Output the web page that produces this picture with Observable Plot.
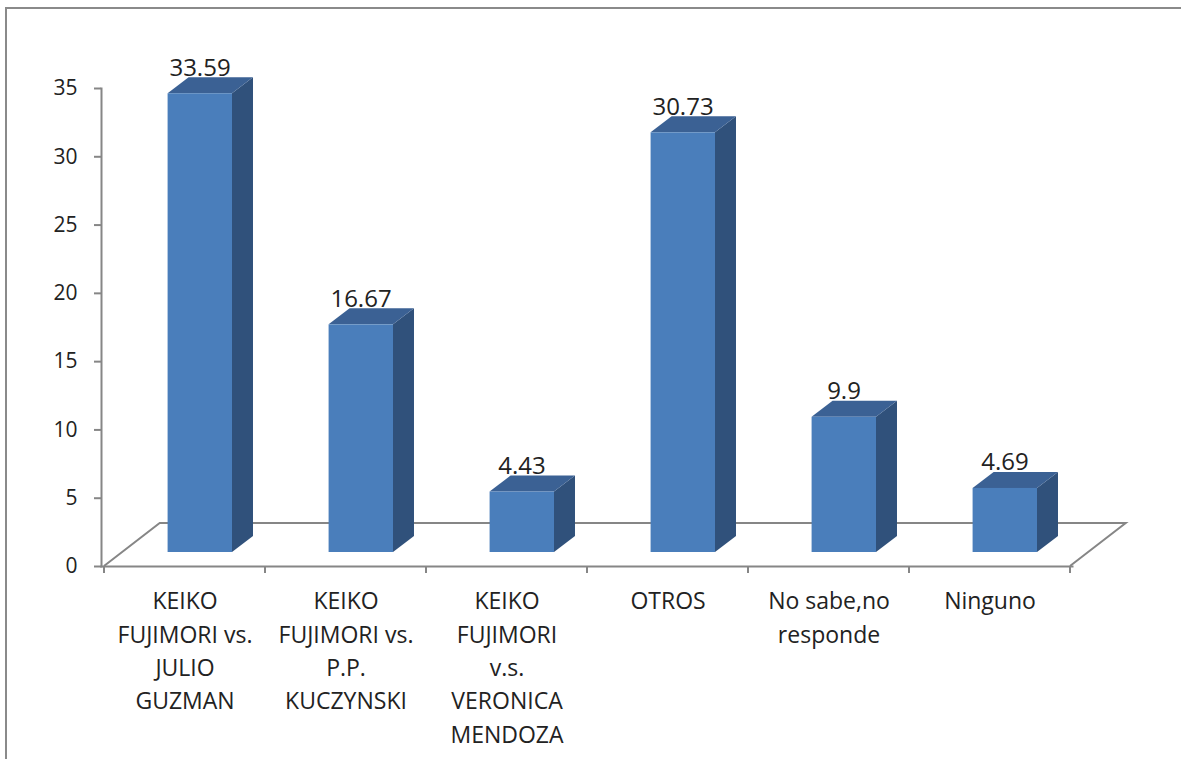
<!DOCTYPE html>
<html>
<head>
<meta charset="utf-8">
<script src="https://cdn.jsdelivr.net/npm/d3@7"></script>
<script src="https://cdn.jsdelivr.net/npm/@observablehq/plot@0.6"></script>
<style>
  html, body { margin: 0; padding: 0; background: #fff; overflow: hidden; }
  body { width: 1181px; height: 759px; position: relative; }
  #frame { position: absolute; left: 5px; top: 7px; width: 1300px; height: 900px;
           border-top: 2px solid #8a8a8a; border-left: 2px solid #8a8a8a; box-sizing: border-box; }
  #chart { position: absolute; left: 0; top: 0; }
</style>
</head>
<body>
<div id="frame"></div>
<div id="chart"></div>
<script>
// ---- data ----
const categories = [
  "KEIKO FUJIMORI vs. JULIO GUZMAN",
  "KEIKO FUJIMORI vs. P.P. KUCZYNSKI",
  "KEIKO FUJIMORI v.s. VERONICA MENDOZA",
  "OTROS",
  "No sabe,no responde",
  "Ninguno"
];
const categoryLabels = [
  "KEIKO\nFUJIMORI vs.\nJULIO\nGUZMAN",
  "KEIKO\nFUJIMORI vs.\nP.P.\nKUCZYNSKI",
  "KEIKO\nFUJIMORI\nv.s.\nVERONICA\nMENDOZA",
  "OTROS",
  "No sabe,no\nresponde",
  "Ninguno"
];
const values = [33.59, 16.67, 4.43, 30.73, 9.9, 4.69];
const valueLabels = ["33.59", "16.67", "4.43", "30.73", "9.9", "4.69"];
const yTicks = [0, 5, 10, 15, 20, 25, 30, 35];

const data = categories.map((c, i) => ({cat: c, v: values[i], label: valueLabels[i], catLabel: categoryLabels[i]}));

// ---- styles ----
const FRONT = "#4a7ebb", TOP = "#3b6194", SIDE = "#30517b", GRID = "#868686";
const FONT = "'Open Sans', 'Noto Sans', sans-serif";

function bw(x) { return typeof x.bandwidth === "function" ? x.bandwidth() : x.bandwidth; }

// floor of the 3D plot (back edge, side edges) and category boundary ticks
function floorMark(index, scales) {
  const x = scales.x, y = scales.y, w = bw(x);
  const n = categories.length;
  const xa = x(categories[0]), xb = x(categories[n - 1]) + w;
  const y0 = y(0);
  const ddx = w * 0.346, ddy = -43;
  const g = d3.create("svg:g").attr("fill", "none").attr("stroke", GRID).attr("stroke-width", 2);
  g.append("path").attr("d", `M${xa},${y0}L${xa + ddx},${y0 + ddy}L${xb + ddx},${y0 + ddy}L${xb},${y0}`);
  for (let i = 0; i <= n; i++) {
    const xi = i < n ? x(categories[i]) : xb;
    g.append("line").attr("x1", xi).attr("x2", xi).attr("y1", y0).attr("y2", y0 + 7);
  }
  return g.node();
}

// 3D bars: front, top and side faces built from the x and y scales
function barsMark(index, scales) {
  const x = scales.x, y = scales.y, w = bw(x);
  const fdy = -14;                        // front face raised into depth
  const fw = w * 0.40;                    // front face width
  const sdx = 21, sdy = -16;              // bar depth
  const g = d3.create("svg:g");
  data.forEach(d => {
    const L = x(d.cat) + w * 0.395;
    const R = L + fw;
    const T = y(d.v) + fdy;
    const B = y(0) + fdy;
    g.append("path").attr("fill", SIDE)
      .attr("d", `M${R},${B}L${R + sdx},${B + sdy}L${R + sdx},${T + sdy}L${R},${T}Z`);
    g.append("path").attr("fill", TOP)
      .attr("d", `M${L},${T}L${L + sdx},${T + sdy}L${R + sdx},${T + sdy}L${R},${T}Z`);
    g.append("rect").attr("fill", FRONT).attr("x", L).attr("y", T).attr("width", fw).attr("height", B - T);
  });
  return g.node();
}

const plot = Plot.plot({
  width: 1181,
  height: 759,
  marginLeft: 101,
  marginRight: 109,
  marginTop: 88,
  marginBottom: 193,
  style: {fontFamily: FONT, color: "#222", background: "transparent", overflow: "visible"},
  x: {type: "band", domain: categories, padding: 0, axis: null},
  y: {domain: [0, 35], axis: null, label: null},
  marks: [
    floorMark,
    barsMark,
    Plot.frame({anchor: "left", stroke: GRID, strokeWidth: 2}),
    Plot.frame({anchor: "bottom", stroke: GRID, strokeWidth: 2}),
    Plot.axisY({ticks: yTicks, tickSize: 7, tickPadding: 17, fontSize: 21, stroke: GRID, strokeWidth: 2, label: null, tickFormat: d => String(d)}),
    Plot.text(data, {x: "cat", y: "v", text: "label", dx: 15, dy: -32, fontSize: 24, lineAnchor: "bottom", fill: "#222"}),
    Plot.text(data, {x: "cat", text: "catLabel", frameAnchor: "bottom", dy: 19, lineAnchor: "top", lineHeight: 1.45, fontSize: 23, fill: "#222"})
  ]
});
document.getElementById("chart").appendChild(plot);
</script>
</body>
</html>
